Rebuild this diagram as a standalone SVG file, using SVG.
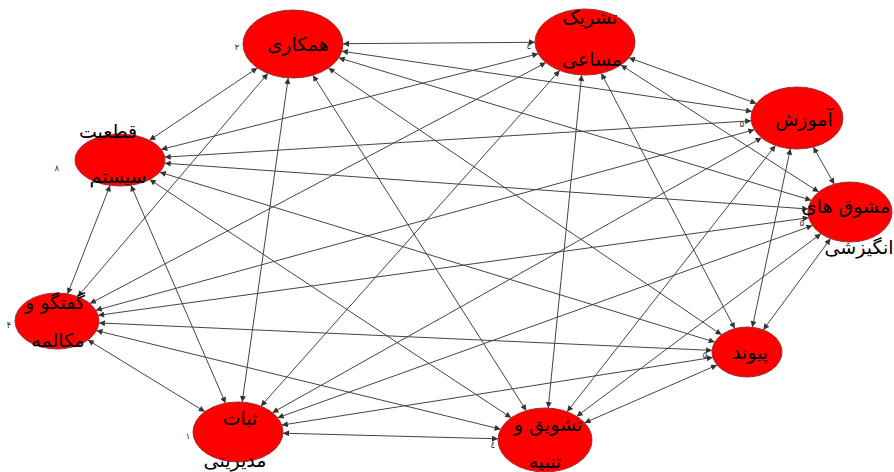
<svg xmlns="http://www.w3.org/2000/svg" width="894" height="472" viewBox="0 0 894 472">
<defs>
<marker id="ah" viewBox="0 0 10 10" refX="10" refY="5" markerWidth="8" markerHeight="6" markerUnits="userSpaceOnUse" orient="auto-start-reverse">
<path d="M0,0 L10,5 L0,10 z" fill="#333"/>
</marker>
</defs>
<style>
.e line{stroke:#444;stroke-width:1;marker-start:url(#ah);marker-end:url(#ah)}
.n ellipse{fill:#ff0000;stroke:#a03030;stroke-width:1}
.t{font-family:"DejaVu Sans","Noto Sans",sans-serif;font-size:19px;fill:#000;text-anchor:middle;direction:rtl}
.d{font-family:"DejaVu Sans",sans-serif;font-size:9px;fill:#333;text-anchor:middle}
</style>
<rect width="894" height="472" fill="#fff"/>
<g id="edges" class="e">
<line x1="343" y1="43.7" x2="535" y2="42.3"/>
<line x1="341.9" y1="51.2" x2="752" y2="111.4"/>
<line x1="338.7" y1="57.8" x2="811.3" y2="200.3"/>
<line x1="328.4" y1="68" x2="721.6" y2="334.8"/>
<line x1="312.9" y1="75.2" x2="526.3" y2="410.7"/>
<line x1="288.2" y1="77.9" x2="242.2" y2="402.1"/>
<line x1="267.9" y1="73.4" x2="77.7" y2="296.7"/>
<line x1="257.4" y1="67.9" x2="149.4" y2="140.3"/>
<line x1="628.9" y1="57.8" x2="756.4" y2="103.4"/>
<line x1="620.9" y1="65" x2="818.8" y2="192"/>
<line x1="601.3" y1="73.2" x2="734.8" y2="328.6"/>
<line x1="581.7" y1="74.9" x2="548.2" y2="408.1"/>
<line x1="559.7" y1="70.4" x2="260.9" y2="406.2"/>
<line x1="546" y1="62.6" x2="89.9" y2="303.6"/>
<line x1="538.3" y1="53.8" x2="161.2" y2="149.5"/>
<line x1="813.3" y1="147" x2="834.3" y2="184.2"/>
<line x1="790.4" y1="148.7" x2="752.3" y2="327.3"/>
<line x1="775.5" y1="145.4" x2="567.1" y2="411.8"/>
<line x1="761.7" y1="137.8" x2="272.4" y2="412.7"/>
<line x1="754.4" y1="129.7" x2="95.8" y2="310.3"/>
<line x1="751.2" y1="120.8" x2="164.7" y2="157.2"/>
<line x1="830.5" y1="238.6" x2="763.3" y2="329.9"/>
<line x1="821" y1="233.7" x2="576.6" y2="416.4"/>
<line x1="812.5" y1="225.5" x2="277.6" y2="417.8"/>
<line x1="808.8" y1="217.7" x2="98.1" y2="315.3"/>
<line x1="808.2" y1="209" x2="164.7" y2="163.2"/>
<line x1="717.1" y1="365" x2="584.6" y2="422.8"/>
<line x1="712.8" y1="357.4" x2="281.8" y2="425.1"/>
<line x1="712.1" y1="350.4" x2="98.9" y2="322.9"/>
<line x1="714.8" y1="342.1" x2="159.8" y2="172.2"/>
<line x1="498" y1="438.8" x2="283" y2="433.2"/>
<line x1="500.7" y1="429.2" x2="96.4" y2="330.6"/>
<line x1="511.2" y1="417.7" x2="149.7" y2="179.5"/>
<line x1="204.9" y1="411.7" x2="87.9" y2="340"/>
<line x1="225.5" y1="403.2" x2="130.9" y2="185.2"/>
<line x1="67.6" y1="293.9" x2="110.1" y2="185.4"/>
</g>
<g id="n-hamkari" class="n">
<ellipse cx="293" cy="44" rx="50" ry="34"/>
<text class="t" x="298" y="51">همکاری</text>
<text class="d" x="237" y="50">۲</text>
</g>
<g id="n-tashrik" class="n">
<ellipse cx="585" cy="42" rx="50" ry="33"/>
<text class="t" x="590" y="24">تشریک</text>
<text class="t" x="592" y="66">مساعی</text>
<text class="d" x="529" y="49">٤</text>
</g>
<g id="n-amoozesh" class="n">
<ellipse cx="797" cy="118" rx="46" ry="31"/>
<text class="t" x="804" y="126">آموزش</text>
<text class="d" x="742" y="127">۵</text>
</g>
<g id="n-moshavegh" class="n">
<ellipse cx="850" cy="212" rx="42" ry="30"/>
<text class="t" x="846" y="213">مشوق های</text>
<text class="t" x="859" y="254">انگیزشی</text>
<text class="d" x="802" y="226">۵</text>
</g>
<g id="n-peyvand" class="n">
<ellipse cx="747" cy="352" rx="35" ry="25"/>
<text class="t" x="750" y="359">پیوند</text>
<text class="d" x="705" y="358">۵</text>
</g>
<g id="n-tashvigh" class="n">
<ellipse cx="545" cy="440" rx="47" ry="32"/>
<text class="t" x="548" y="431">تشویق و</text>
<text class="t" x="545" y="468">تنبیه</text>
<text class="d" x="493" y="448">٤</text>
</g>
<g id="n-sabat" class="n">
<ellipse cx="238" cy="432" rx="45" ry="30"/>
<text class="t" x="240" y="425">ثبات</text>
<text class="t" x="235" y="467">مدیریتی</text>
<text class="d" x="188" y="439">۱</text>
</g>
<g id="n-goftogoo" class="n">
<ellipse cx="57" cy="321" rx="42" ry="28"/>
<text class="t" x="55" y="309">گفتگو و</text>
<text class="t" x="58" y="347">مکالمه</text>
<text class="d" x="9" y="328">۴</text>
</g>
<g id="n-ghateiat" class="n">
<ellipse cx="120" cy="160" rx="45" ry="26"/>
<text class="t" x="108" y="138">قطعیت</text>
<text class="t" x="118" y="183">سیستم</text>
<text class="d" x="57" y="171">۸</text>
</g>
</svg>
